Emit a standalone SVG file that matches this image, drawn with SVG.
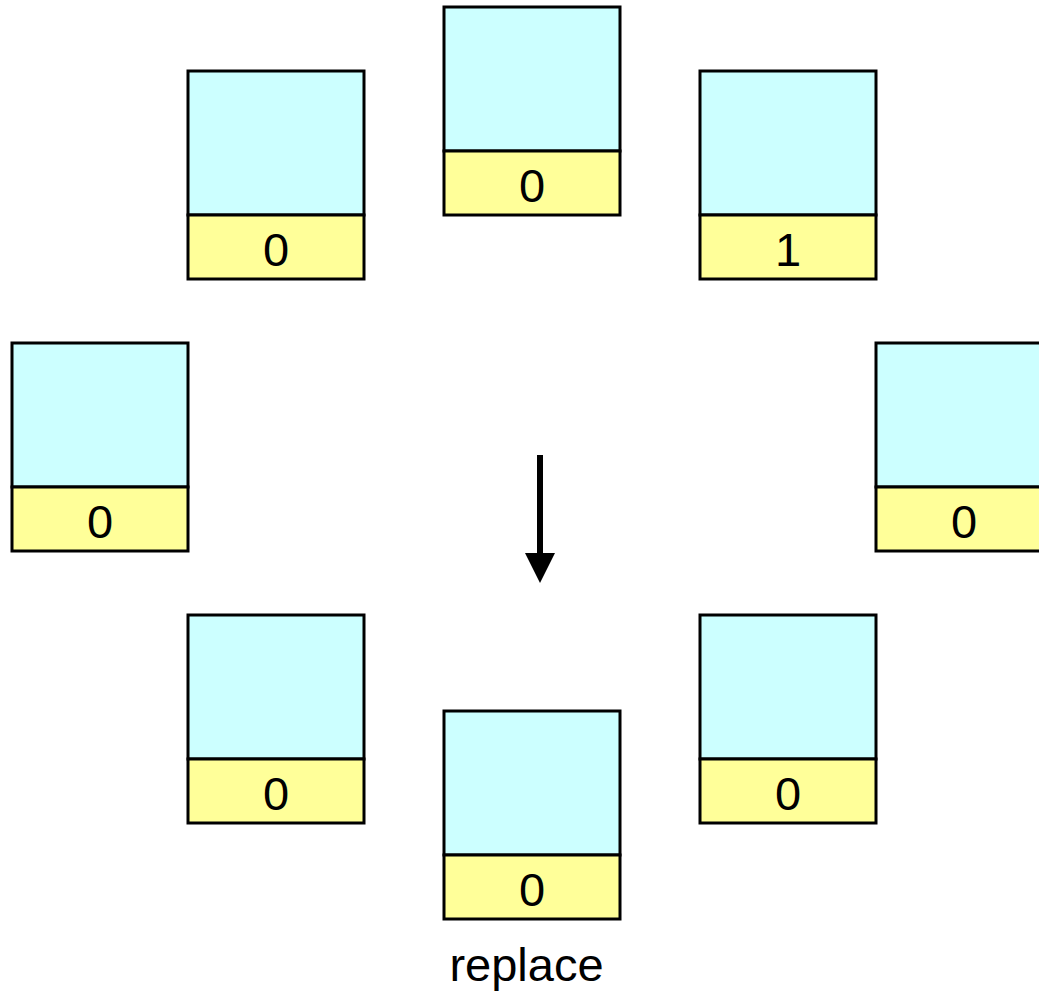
<svg xmlns="http://www.w3.org/2000/svg" width="1039" height="995" viewBox="0 0 1039 995">
  <style>
    .top { fill: #CCFFFF; stroke: #000; stroke-width: 3; }
    .bot { fill: #FFFF99; stroke: #000; stroke-width: 3; }
    .val { font-family: "Liberation Sans", Arial, sans-serif; font-size: 47px; fill: #000; text-anchor: middle; }
  </style>
  <defs>
    <!-- one cell: upper cyan block over a yellow value strip -->
    <g id="cell">
      <rect class="top" x="0" y="0" width="176" height="144"/>
      <rect class="bot" x="0" y="144" width="176" height="64"/>
    </g>
  </defs>
  <rect width="1039" height="995" fill="#fff"/>

  <g id="node-top">
    <use href="#cell" x="444" y="7"/>
    <text class="val" x="532" y="202">0</text>
  </g>
  <g id="node-top-left">
    <use href="#cell" x="188" y="71"/>
    <text class="val" x="276" y="266">0</text>
  </g>
  <g id="node-top-right">
    <use href="#cell" x="700" y="71"/>
    <text class="val" x="788" y="266">1</text>
  </g>
  <g id="node-left">
    <use href="#cell" x="12" y="343"/>
    <text class="val" x="100" y="538">0</text>
  </g>
  <g id="node-right">
    <use href="#cell" x="876" y="343"/>
    <text class="val" x="964" y="538">0</text>
  </g>
  <g id="node-bottom-left">
    <use href="#cell" x="188" y="615"/>
    <text class="val" x="276" y="810">0</text>
  </g>
  <g id="node-bottom-right">
    <use href="#cell" x="700" y="615"/>
    <text class="val" x="788" y="810">0</text>
  </g>
  <g id="node-bottom">
    <use href="#cell" x="444" y="711"/>
    <text class="val" x="532" y="906">0</text>
  </g>

  <g id="connectors">
    <line x1="540" y1="455" x2="540" y2="556" stroke="#000" stroke-width="6"/>
    <polygon points="525,553 555,553 540,583" fill="#000"/>
  </g>

  <text class="val" x="526.5" y="981">replace</text>
</svg>
